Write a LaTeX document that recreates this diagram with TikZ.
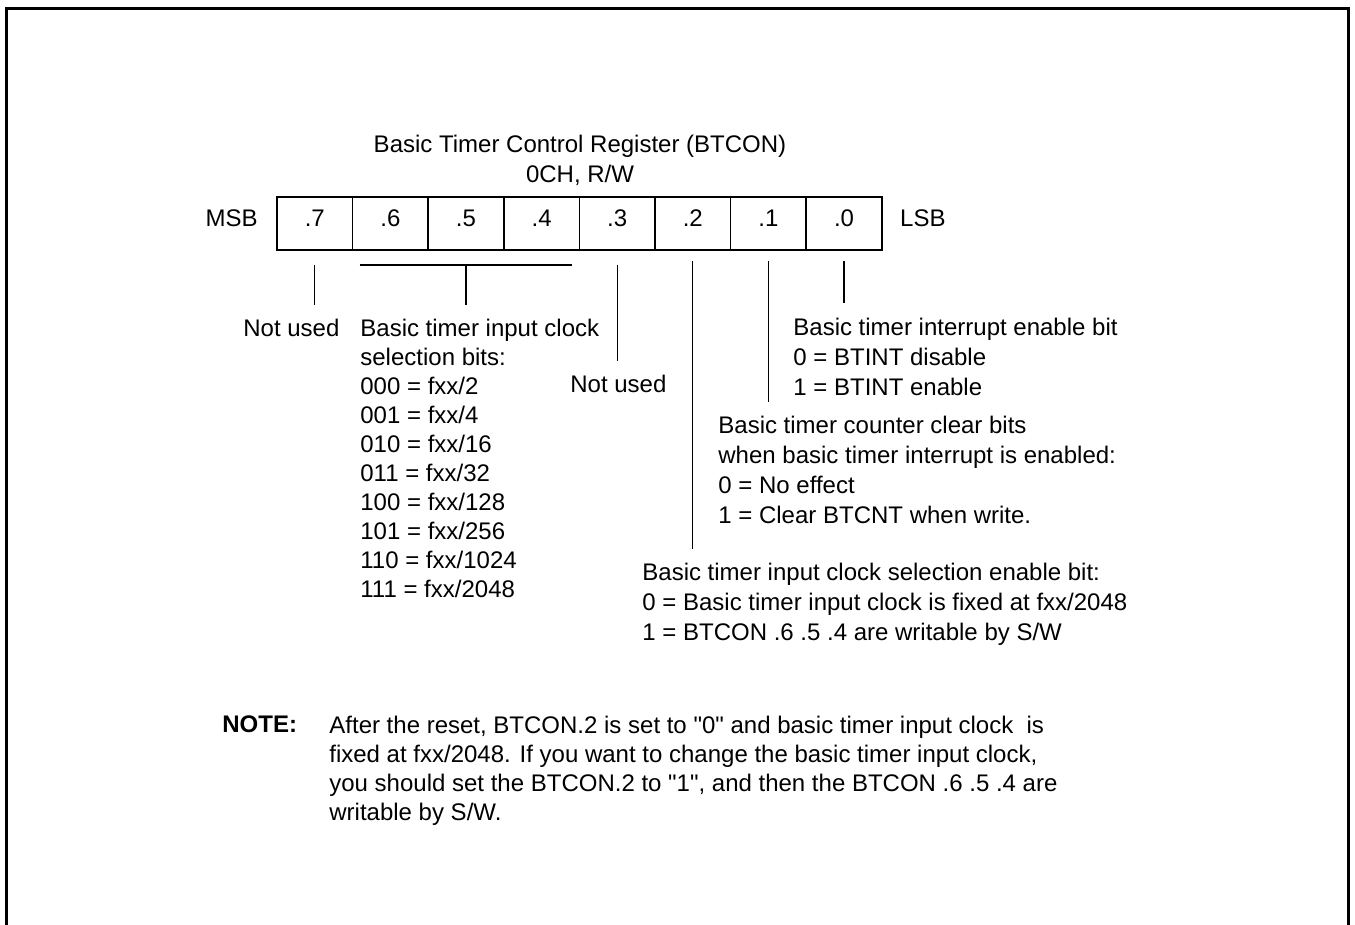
\documentclass[tikz,border=0pt]{standalone}
\usepackage{fontspec}
\setmainfont[Ligatures=TeXOff]{Liberation Sans}
\usetikzlibrary{positioning}

\tikzstyle{bit} = [draw, line width=0.8pt, minimum width=37.8pt, minimum height=26.5pt, inner sep=0pt, outer sep=0pt, text height=8.6pt, text depth=6pt]
\tikzstyle{side} = [inner sep=0pt, text height=8.6pt, text depth=6pt]
\tikzstyle{txt} = [inner sep=0pt, anchor=north west, align=left]
\tikzstyle{wide} = [font=\fontsize{12}{15}\selectfont]
\tikzstyle{tick} = [line width=0.65pt, shorten <=7.5pt, shorten >=7pt]

\begin{document}
\begin{tikzpicture}[x=0.5pt, y=-0.5pt, font=\fontsize{12}{14.5}\selectfont]
\useasboundingbox (0,0) rectangle (1355,925);
\draw[line width=1.5pt] (6,925) -- (6,9) -- (1348,9) -- (1348,925);

\node[txt, anchor=north, align=center, wide] (title) at (580,134.8) {Basic Timer Control Register (BTCON)\\0CH, R/W};

\node[bit] (b7) at (314.8,223.5) {.7};
\node[bit, right=0pt of b7] (b6) {.6};
\node[bit, right=0pt of b6] (b5) {.5};
\node[bit, right=0pt of b5] (b4) {.4};
\node[bit, right=0pt of b4] (b3) {.3};
\node[bit, right=0pt of b3] (b2) {.2};
\node[bit, right=0pt of b2] (b1) {.1};
\node[bit, right=0pt of b1] (b0) {.0};
\node[side, left=9.5pt of b7] (msb) {MSB};
\node[side, right=9pt of b0] (lsb) {LSB};

\node[txt] (nu7) at (243,318.8) {Not used};
\node[txt] (clk) at (360,318.8) {Basic timer input clock\\selection bits:\\000 = fxx/2\\001 = fxx/4\\010 = fxx/16\\011 = fxx/32\\100 = fxx/128\\101 = fxx/256\\110 = fxx/1024\\111 = fxx/2048};
\node[txt] (nu3) at (570,374.8) {Not used};
\node[txt, wide] (en) at (642,562.8) {Basic timer input clock selection enable bit:\\0 = Basic timer input clock is fixed at fxx/2048\\1 = BTCON .6 .5 .4 are writable by S/W};
\node[txt, wide] (clr) at (718,415.8) {Basic timer counter clear bits\\when basic timer interrupt is enabled:\\0 = No effect\\1 = Clear BTCNT when write.};
\node[txt, wide] (intr) at (793,317.3) {Basic timer interrupt enable bit\\0 = BTINT disable\\1 = BTINT enable};

\draw[tick] (b7.south) -- (b7 |- nu7.north);
\draw[line width=0.65pt] ([xshift=3.5pt,yshift=-7.5pt]b6.south west) -- ([xshift=-3.5pt,yshift=-7.5pt]b4.south east);
\draw[tick] (b5.south) -- (b5 |- clk.north);
\draw[tick] (b3.south) -- (b3 |- nu3.north);
\draw[tick, shorten <=5.5pt] (b2.south) -- (b2 |- en.north);
\draw[tick, shorten <=5.5pt] (b1.south) -- (b1 |- clr.north);
\draw[tick, shorten <=5.5pt] (b0.south) -- (b0 |- intr.north);

\node[txt, font=\fontsize{12}{14.5}\selectfont\bfseries] (note) at (222,715.8) {NOTE:};
\node[txt] (notetxt) at (329,715.8) {After the reset, BTCON.2 is set to "0" and basic timer input clock\ \ is\\fixed at fxx/2048. If you want to change the basic timer input clock,\\you should set the BTCON.2 to "1", and then the BTCON .6 .5 .4 are\\writable by S/W.};
\end{tikzpicture}
\end{document}
